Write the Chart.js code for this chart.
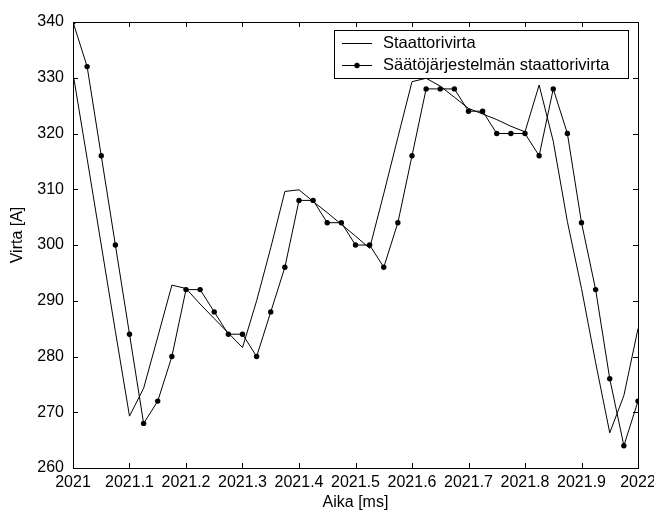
<!DOCTYPE html>
<html>
<head>
<meta charset="utf-8">
<title>Staattorivirta</title>
<script src="https://cdn.jsdelivr.net/npm/chart.js@4.4.1/dist/chart.umd.min.js"></script>
<style>
  html, body { margin: 0; padding: 0; background: #fff; }
  canvas { display: block; }
</style>
</head>
<body>
<canvas id="chart" width="654" height="513"></canvas>
<script>
// sample times [ms]
const aika = [
    2021.000, 2021.025, 2021.050, 2021.075, 2021.100, 2021.125, 2021.150, 2021.175,
    2021.200, 2021.225, 2021.250, 2021.275, 2021.300, 2021.325, 2021.350, 2021.375,
    2021.400, 2021.425, 2021.450, 2021.475, 2021.500, 2021.525, 2021.550, 2021.575,
    2021.600, 2021.625, 2021.650, 2021.675, 2021.700, 2021.725, 2021.750, 2021.775,
    2021.800, 2021.825, 2021.850, 2021.875, 2021.900, 2021.925, 2021.950, 2021.975,
    2022.000
];

// measured stator current [A]
const staattorivirta = [
    330.8, 315.5, 300, 284.5, 269.3, 274.3, 283.5, 292.8,
    292.2, 289.4, 286.8, 284.2, 281.6, 290, 299.5, 309.6,
    309.9, 307.8, 305.8, 303.7, 301.6, 299.4, 309.2, 319.3,
    329.3, 329.9, 328.5, 326.5, 324.5, 323.5, 322.5, 321.3,
    320.3, 328.7, 318.6, 304.2, 292.2, 278.9, 266.3, 273,
    285
];

// stator current as seen by the control system (quantized, one sample late) [A]
const saatoVirta = [
    340, 332, 316, 300, 284, 268, 272, 280,
    292, 292, 288, 284, 284, 280, 288, 296,
    308, 308, 304, 304, 300, 300, 296, 304,
    316, 328, 328, 328, 324, 324, 320, 320,
    320, 316, 328, 320, 304, 292, 276, 264,
    272
];

const sarjat = ["Staattorivirta", "Säätöjärjestelmän staattorivirta"];
const xTicks = [2021, 2021.1, 2021.2, 2021.3, 2021.4, 2021.5, 2021.6, 2021.7, 2021.8, 2021.9, 2022];
const yTicks = [260, 270, 280, 290, 300, 310, 320, 330, 340];

const FONT = "'Liberation Sans', Arial, sans-serif";

// box, inward ticks, legend and axis titles
const kehys = {
    id: "kehys",
    afterDatasetsDraw(chart) {
        const { ctx, chartArea: a, scales } = chart;
        const L = Math.round(a.left), R = Math.round(a.right);
        const T = Math.round(a.top), B = Math.round(a.bottom);
        ctx.save();
        ctx.strokeStyle = "#000";
        ctx.lineWidth = 1;
        ctx.strokeRect(L + 0.5, T + 0.5, R - L, B - T);

        const len = 5;
        ctx.beginPath();
        scales.x.ticks.forEach(t => {
            const px = Math.round(scales.x.getPixelForValue(t.value)) + 0.5;
            ctx.moveTo(px, B); ctx.lineTo(px, B - len);
            ctx.moveTo(px, T); ctx.lineTo(px, T + len);
        });
        scales.y.ticks.forEach(t => {
            const py = Math.round(scales.y.getPixelForValue(t.value)) + 0.5;
            ctx.moveTo(L, py); ctx.lineTo(L + len, py);
            ctx.moveTo(R, py); ctx.lineTo(R - len, py);
        });
        ctx.stroke();

        // legend
        const bx = 334, by = 30, bw = 294, bh = 48;
        ctx.fillStyle = "#fff";
        ctx.fillRect(bx, by, bw, bh);
        ctx.strokeRect(bx + 0.5, by + 0.5, bw, bh);
        ctx.font = "16.5px " + FONT;
        ctx.textBaseline = "middle";
        ctx.textAlign = "left";
        chart.data.datasets.forEach((ds, i) => {
            const y = by + 13 + i * 22 + 0.5;
            ctx.beginPath();
            ctx.moveTo(bx + 8, y);
            ctx.lineTo(bx + 38, y);
            ctx.stroke();
            if (ds.pointRadius > 0) {
                ctx.fillStyle = "#000";
                ctx.beginPath();
                ctx.arc(bx + 23, y, ds.pointRadius, 0, Math.PI * 2);
                ctx.fill();
            }
            ctx.fillStyle = "#000";
            ctx.fillText(ds.label, bx + 49, y);
        });

        // axis titles
        ctx.font = "16px " + FONT;
        ctx.textAlign = "center";
        ctx.fillText("Aika [ms]", (L + R) / 2, 503);
        ctx.translate(18, 235);
        ctx.rotate(-Math.PI / 2);
        ctx.fillText("Virta [A]", 0, 0);
        ctx.restore();
    }
};

new Chart(document.getElementById("chart"), {
    type: "line",
    data: {
        datasets: [
            {
                label: sarjat[0],
                data: aika.map((t, i) => ({ x: t, y: staattorivirta[i] })),
                borderColor: "#000",
                borderWidth: 1,
                pointRadius: 0,
                tension: 0
            },
            {
                label: sarjat[1],
                data: aika.map((t, i) => ({ x: t, y: saatoVirta[i] })),
                borderColor: "#000",
                borderWidth: 1,
                pointRadius: 2.7,
                pointHoverRadius: 2.7,
                pointBorderWidth: 0,
                pointBackgroundColor: "#000",
                tension: 0
            }
        ]
    },
    options: {
        responsive: false,
        animation: false,
        events: [],
        layout: { padding: { top: 22, right: 16, bottom: 0, left: 0 } },
        plugins: {
            legend: { display: false },
            tooltip: { enabled: false }
        },
        scales: {
            x: {
                type: "linear",
                min: 2021,
                max: 2022,
                grid: { display: false, drawTicks: false },
                border: { display: false },
                afterBuildTicks: s => { s.ticks = xTicks.map(v => ({ value: v })); },
                afterFit: s => { s.height = 45; s.paddingLeft = 0; s.paddingRight = 0; },
                ticks: {
                    autoSkip: false,
                    maxRotation: 0,
                    padding: 5,
                    color: "#000",
                    font: { family: FONT, size: 16 },
                    callback: v => Number.isInteger(v) ? String(v) : v.toFixed(1)
                }
            },
            y: {
                min: 260,
                max: 340,
                grid: { display: false, drawTicks: false },
                border: { display: false },
                afterBuildTicks: s => { s.ticks = yTicks.map(v => ({ value: v })); },
                afterFit: s => { s.width = 73; },
                ticks: {
                    padding: 9,
                    color: "#000",
                    font: { family: FONT, size: 16 }
                }
            }
        }
    },
    plugins: [kehys]
});
</script>
</body>
</html>
